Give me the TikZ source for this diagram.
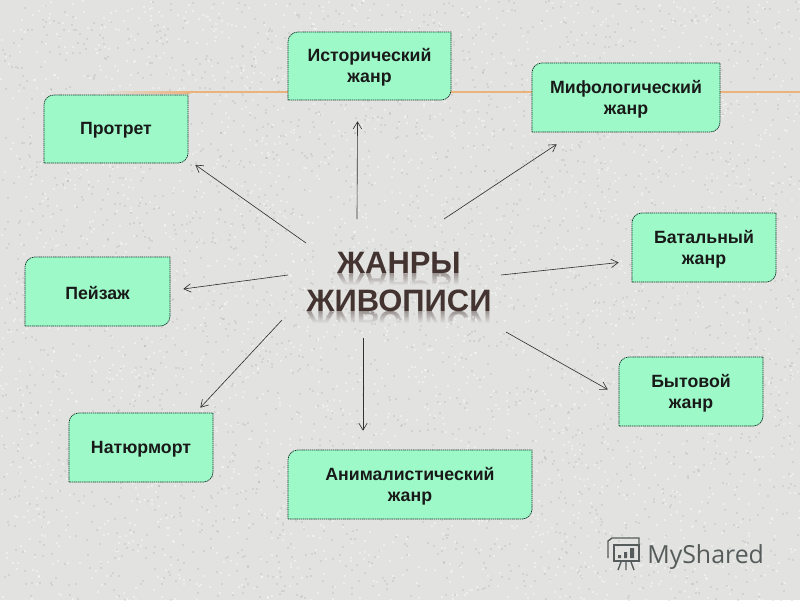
\documentclass[tikz,border=0pt]{standalone}
\usepackage{fontspec}
\setmainfont{Liberation Sans}
\newfontfamily\markfont{Open Sans}
\usetikzlibrary{arrows.meta,fadings}

\definecolor{paper}{HTML}{E2E2E0}
\definecolor{boxgreen}{HTML}{9DFAC8}
\definecolor{boxedge}{HTML}{12332A}
\definecolor{ruleorange}{HTML}{EBB27C}
\definecolor{titlebrown}{HTML}{443431}
\definecolor{markgrey}{HTML}{555C5B}

\tikzset{
  boxline/.style={draw=boxedge, fill=boxgreen, line width=0.5pt, dash pattern=on 1pt off 0.5pt},
  genretext/.style={inner sep=0pt, align=center, font=\fontsize{12.6}{15}\selectfont\bfseries, text=black!90},
  genrearrow/.style={-{Straight Barb[length=5pt,width=6pt]}, line width=0.45pt, draw=black!80},
  titletext/.style={inner sep=0pt, anchor=base, font=\fontsize{22}{26}\selectfont\bfseries, text=titlebrown},
  titleshadow/.style={titletext, yscale=-1, transform shape, text=titlebrown!45!paper},
}

% name, left, top, right, bottom, text
\newcommand{\genrebox}[6]{%
  \draw[boxline] (#2,#5) [rounded corners=7pt] -- (#2,#3) [sharp corners] -- (#4,#3)
    [rounded corners=7pt] -- (#4,#5) [sharp corners] -- cycle;
  \node[genretext, minimum width={(#4-#2)*0.025cm}, minimum height={(#5-#3)*0.025cm}]
    (#1) at ({(#2+#4)/2},{(#3+#5)/2+1.5}) {#6};
}

\begin{document}
\begin{tikzpicture}[x=0.025cm, y=-0.025cm]
  \clip (0,0) rectangle (800,600);
  \fill[paper] (0,0) rectangle (800,600);

  % Coordinates
  \coordinate (fromPortrait) at (306,243);
  \coordinate (fromHistory) at (357,219);
  \coordinate (fromMyth) at (444,219);
  \coordinate (fromBattle) at (501,275);
  \coordinate (fromDaily) at (506,332);
  \coordinate (fromAnimal) at (363,338);
  \coordinate (fromStill) at (282,320);
  \coordinate (fromLandscape) at (288,275);

  % Reflection of the title
  \node[titleshadow] (shadowA) at (399,273) {ЖАНРЫ};
  \node[titleshadow] (shadowB) at (399,311) {ЖИВОПИСИ};
  \fill[paper, path fading=north] (300,273) rectangle (500,285);
  \fill[paper] (300,284.5) rectangle (500,297);
  \fill[paper, path fading=north] (300,311) rectangle (500,323);
  \fill[paper] (300,322.5) rectangle (500,336);

  % Paper grain
  \pgfmathsetseed{7}
  \foreach \i in {1,...,2800} {
    \fill[white, opacity=0.4] ({rnd*800},{rnd*600}) rectangle ++(2,2);
    \fill[black!45, opacity=0.18] ({rnd*800},{rnd*600}) rectangle ++(2,2);
  }

  % Orange rule
  \shade[left color=paper, right color=ruleorange] (100,91) rectangle (190,93);
  \fill[ruleorange] (190,91) rectangle (800,93);

  % Boxes
  \genrebox{portrait}{44}{95}{188}{163}{Протрет}
  \genrebox{history}{288}{32}{451}{100}{Исторический\\жанр}
  \genrebox{myth}{532}{63}{720}{132}{Мифологический\\жанр}
  \genrebox{battle}{632}{213}{776}{282}{Батальный\\жанр}
  \genrebox{daily}{619}{357}{763}{426}{Бытовой\\жанр}
  \genrebox{animal}{288}{450}{532}{519}{Анималистический\\жанр}
  \genrebox{still}{69}{413}{213}{482}{Натюрморт}
  \genrebox{landscape}{25}{257}{170}{326}{Пейзаж}

  % Title
  \node[titletext] (titleA) at (399,273) {ЖАНРЫ};
  \node[titletext] (titleB) at (399,311) {ЖИВОПИСИ};

  % Arrows
  \draw[genrearrow] (fromPortrait) -- ([shift={(7,0)}]portrait.south east);
  \draw[genrearrow] (fromHistory) -- ([shift={(-12,19.5)}]history.south);
  \draw[genrearrow] (fromMyth) -- ([shift={(25,10.5)}]myth.south west);
  \draw[genrearrow] (fromBattle) -- ([shift={(-13,13.5)}]battle.west);
  \draw[genrearrow] (fromDaily) -- ([shift={(-11,-3.5)}]daily.west);
  \draw[genrearrow] (fromAnimal) -- ([shift={(-47,-20.5)}]animal.north);
  \draw[genrearrow] (fromStill) -- ([shift={(-13,-6.5)}]still.north east);
  \draw[genrearrow] (fromLandscape) -- ([shift={(13,-4)}]landscape.east);

  % Watermark
  \node[inner sep=0pt, anchor=base west, font=\markfont\fontsize{17.7}{20}\selectfont, text=markgrey] (mark) at (647,563) {MyShared};
  \draw[markgrey, line width=1pt] (614,545) rectangle (639,561);
  \draw[markgrey, line width=1pt] (608,558) -- (608,541) -- (612,538) -- (639,538) -- (639,545);
  \draw[markgrey, line width=1pt] (621,562) -- (618,570) (626,562) -- (626,570) (631,562) -- (634,570);
  \fill[markgrey] (618,555) rectangle (621,558) (624,552) rectangle (627,558) (630,548) rectangle (634,558);
\end{tikzpicture}
\end{document}
